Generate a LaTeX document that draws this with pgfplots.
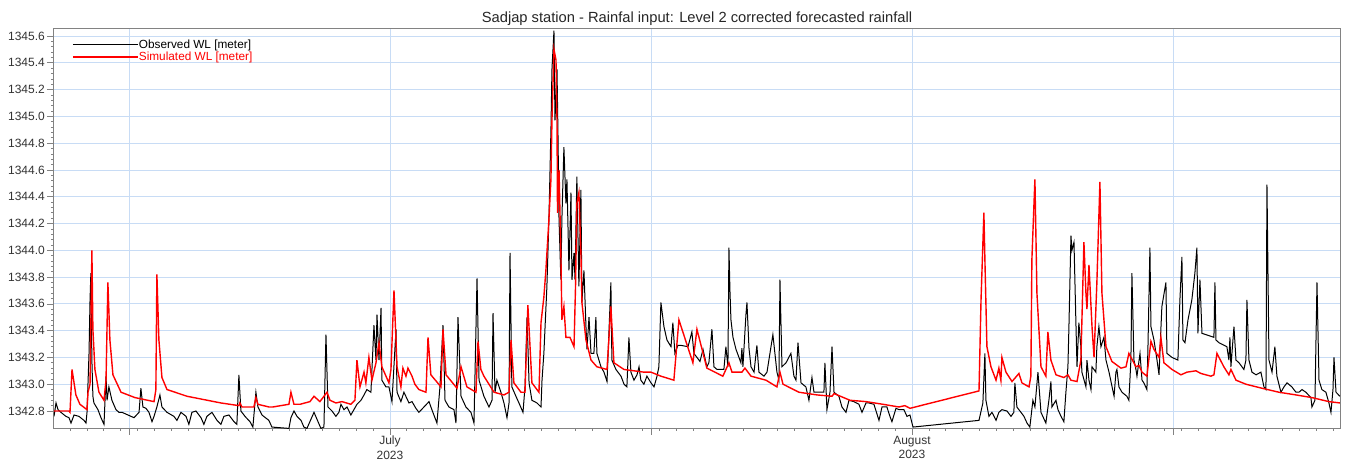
\documentclass[border=0pt]{standalone}
\usepackage{pgfplots}
\pgfplotsset{compat=1.18}
\usepackage{fontspec}
\setmainfont{Liberation Sans}
\definecolor{gridblue}{RGB}{200,220,245}
\definecolor{framegray}{RGB}{130,130,130}
\begin{document}
\begin{tikzpicture}
\begin{axis}[
  scale only axis, width=1286pt, height=399pt,
  at={(0,0)}, anchor=south west,
  xmin=-19.95, xmax=56.42, ymin=1342.673, ymax=1345.652,
  xtick={-15.5,0,15.5,31,46.5},
  xticklabels={,July\\2023,,August\\2023,},
  minor xtick={-19,-18,...,56},
  ytick={1342.8,1343.0,1343.2,1343.4,1343.6,1343.8,1344.0,1344.2,1344.4,1344.6,1344.8,1345.0,1345.2,1345.4,1345.6},
  yticklabels={1342.8,1343.0,1343.2,1343.4,1343.6,1343.8,1344.0,1344.2,1344.4,1344.6,1344.8,1345.0,1345.2,1345.4,1345.6},
  minor y tick num=4,
  xtick pos=bottom, ytick pos=left, tick align=outside,
  major tick length=7pt, minor tick length=3pt,
  tick style={color=framegray, line width=0.6pt},
  grid=major, major grid style={color=gridblue, line width=0.7pt},
  axis line style={color=framegray, line width=1pt},
  xticklabel style={align=center, font=\fontsize{12}{14.5}\selectfont, text=black!80, inner sep=1pt},
  yticklabel style={font=\fontsize{12}{14}\selectfont, text=black!80, inner sep=2pt},
  /pgf/number format/assume math mode=true,
  title={Sadjap station - Rainfal input: Level 2 corrected forecasted rainfall},
  title style={font=\fontsize{14.7}{16}\selectfont, text=black!85, at={(0.5,1)}, anchor=base, yshift=0pt, inner sep=0pt},
  legend cell align=left,
  legend style={draw=none, fill=none, at={(0.014,0.975)}, anchor=north west, inner sep=0pt, row sep=1pt,
    font=\fontsize{11.8}{12}\selectfont, nodes={inner sep=0.6pt}},
  legend image code/.code={\draw[#1] (0pt,0pt) -- (65pt,0pt);},
]
\addplot[black, line width=1pt] coordinates {
(-19.95,1342.76) (-19.83,1342.86) (-19.71,1342.81) (-19.54,1342.79) (-19.24,1342.76) (-19.06,1342.75) (-18.94,1342.71) (-18.76,1342.77) (-18.47,1342.76) (-18.17,1342.73) (-18.05,1342.71) (-17.99,1342.79) (-17.87,1343.23) (-17.81,1343.63) (-17.76,1343.83) (-17.70,1343.18) (-17.64,1342.91) (-17.58,1342.86) (-17.34,1342.81) (-17.16,1342.75) (-16.98,1342.70) (-16.86,1343.06) (-16.80,1342.88) (-16.69,1342.98) (-16.51,1342.88) (-16.27,1342.81) (-16.09,1342.79) (-15.91,1342.79) (-15.20,1342.75) (-14.90,1342.79) (-14.79,1342.97) (-14.67,1342.83) (-14.49,1342.82) (-14.31,1342.79) (-14.13,1342.72) (-14.01,1342.76) (-13.84,1342.83) (-13.66,1342.92) (-13.54,1342.83) (-13.24,1342.79) (-12.83,1342.76) (-12.65,1342.73) (-12.41,1342.79) (-12.11,1342.76) (-11.94,1342.70) (-11.76,1342.79) (-11.52,1342.80) (-11.22,1342.75) (-11.05,1342.70) (-10.87,1342.76) (-10.57,1342.79) (-10.27,1342.73) (-10.04,1342.70) (-9.86,1342.76) (-9.56,1342.77) (-9.26,1342.72) (-9.09,1342.70) (-8.97,1343.07) (-8.85,1342.80) (-8.61,1342.76) (-8.31,1342.72) (-8.14,1342.68) (-7.96,1342.94) (-7.84,1342.83) (-7.60,1342.77) (-7.19,1342.73) (-7.01,1342.68) (-6.00,1342.67) (-5.88,1342.75) (-5.70,1342.80) (-5.52,1342.76) (-5.28,1342.73) (-5.11,1342.68) (-4.93,1342.67) (-4.51,1342.79) (-4.10,1342.67) (-3.92,1342.68) (-3.80,1343.37) (-3.68,1342.83) (-3.44,1342.80) (-3.21,1342.76) (-3.03,1342.79) (-2.91,1342.85) (-2.73,1342.81) (-2.55,1342.83) (-2.32,1342.77) (-2.14,1342.81) (-1.96,1342.85) (-1.72,1342.88) (-1.54,1342.92) (-1.37,1342.96) (-1.13,1342.94) (-0.95,1343.44) (-0.83,1343.18) (-0.77,1343.52) (-0.65,1343.18) (-0.53,1343.57) (-0.48,1343.03) (-0.24,1342.98) (-0.06,1342.98) (0.12,1342.87) (0.36,1343.41) (0.42,1342.94) (0.65,1342.87) (0.83,1342.94) (1.13,1342.86) (1.31,1342.87) (1.54,1342.82) (1.72,1342.79) (2.02,1342.83) (2.32,1342.87) (2.49,1342.81) (2.79,1342.71) (2.97,1342.98) (3.15,1343.44) (3.27,1342.88) (3.50,1342.83) (3.80,1342.81) (3.92,1342.71) (4.04,1343.50) (4.22,1342.91) (4.51,1342.83) (4.81,1342.79) (4.99,1342.71) (5.17,1343.79) (5.29,1343.03) (5.58,1342.91) (5.88,1342.83) (6.06,1342.88) (6.12,1343.53) (6.24,1342.94) (6.35,1343.03) (6.59,1342.94) (6.77,1342.86) (6.95,1342.75) (7.07,1342.86) (7.13,1343.98) (7.24,1342.98) (7.48,1342.91) (7.66,1342.86) (7.90,1342.79) (8.02,1342.98) (8.14,1343.50) (8.26,1343.01) (8.43,1342.88) (8.73,1342.86) (8.97,1342.83) (9.03,1343.03) (9.14,1343.23) (9.32,1343.73) (9.44,1344.23) (9.56,1344.90) (9.62,1345.35) (9.74,1345.64) (9.80,1344.97) (9.92,1345.35) (9.98,1344.85) (10.04,1344.23) (10.15,1343.78) (10.21,1344.23) (10.33,1344.77) (10.45,1344.35) (10.51,1344.53) (10.63,1343.85) (10.75,1344.43) (10.81,1343.78) (10.93,1343.98) (10.99,1343.78) (11.10,1344.55) (11.22,1343.73) (11.34,1344.45) (11.40,1343.61) (11.52,1343.85) (11.64,1343.43) (11.70,1343.26) (11.82,1343.50) (11.94,1343.23) (12.11,1343.23) (12.23,1343.50) (12.29,1343.23) (12.53,1343.13) (12.71,1343.09) (12.89,1343.02) (13.12,1343.76) (13.18,1343.18) (13.42,1343.11) (13.72,1343.06) (13.90,1343.00) (14.07,1342.98) (14.19,1343.35) (14.31,1343.09) (14.49,1343.03) (14.67,1343.07) (14.79,1343.13) (14.90,1343.03) (15.08,1343.00) (15.26,1343.06) (15.50,1343.01) (15.68,1342.98) (15.86,1343.06) (15.97,1343.13) (16.09,1343.61) (16.27,1343.43) (16.45,1343.33) (16.69,1343.28) (16.80,1343.46) (16.92,1343.23) (17.10,1343.29) (17.28,1343.29) (17.70,1343.28) (17.93,1343.39) (18.05,1343.23) (18.41,1343.17) (18.59,1343.26) (18.82,1343.13) (18.94,1343.16) (19.12,1343.41) (19.24,1343.13) (19.42,1343.11) (19.83,1343.11) (19.95,1343.28) (20.07,1343.13) (20.13,1344.02) (20.19,1343.70) (20.25,1343.48) (20.37,1343.35) (20.55,1343.26) (20.84,1343.16) (20.90,1343.27) (20.96,1343.13) (21.14,1343.52) (21.20,1343.61) (21.32,1343.27) (21.44,1343.13) (21.62,1343.09) (21.79,1343.29) (21.91,1343.09) (22.21,1343.06) (22.39,1343.09) (22.74,1343.37) (22.98,1343.09) (23.10,1343.03) (23.16,1343.78) (23.28,1343.13) (23.52,1343.16) (23.81,1343.23) (23.99,1343.06) (24.11,1343.03) (24.23,1343.31) (24.41,1343.01) (24.70,1342.98) (24.88,1342.88) (25.06,1343.05) (25.18,1342.94) (25.48,1342.94) (25.77,1342.94) (25.83,1343.16) (25.95,1342.81) (26.13,1342.94) (26.25,1343.28) (26.37,1342.94) (26.66,1342.91) (26.84,1342.83) (27.08,1342.79) (27.26,1342.88) (27.55,1342.87) (27.85,1342.85) (28.03,1342.79) (28.27,1342.86) (28.44,1342.86) (28.74,1342.85) (29.04,1342.73) (29.22,1342.83) (29.51,1342.83) (29.69,1342.76) (29.81,1342.72) (30.05,1342.82) (30.23,1342.81) (30.52,1342.81) (30.70,1342.76) (30.88,1342.77) (31.06,1342.68) (34.98,1342.73) (35.21,1342.86) (35.33,1343.23) (35.39,1342.88) (35.57,1342.76) (35.75,1342.79) (35.99,1342.73) (36.16,1342.79) (36.34,1342.81) (36.64,1342.80) (36.88,1342.76) (37.05,1342.79) (37.11,1343.01) (37.23,1342.83) (37.47,1342.79) (37.65,1342.76) (37.83,1342.71) (38.00,1342.68) (38.18,1342.88) (38.30,1342.83) (38.48,1343.09) (38.66,1342.79) (38.95,1342.71) (39.13,1342.88) (39.25,1343.02) (39.31,1342.83) (39.55,1342.88) (39.67,1342.81) (39.85,1342.76) (40.02,1342.72) (40.14,1342.94) (40.26,1343.13) (40.32,1343.43) (40.44,1344.11) (40.50,1344.00) (40.62,1344.06) (40.74,1343.43) (40.80,1343.13) (40.91,1343.46) (41.03,1343.28) (41.09,1343.09) (41.33,1342.98) (41.39,1343.18) (41.51,1343.03) (41.63,1342.96) (41.69,1343.13) (41.92,1343.09) (41.98,1343.28) (42.10,1343.43) (42.22,1343.28) (42.40,1343.35) (42.52,1343.18) (42.70,1343.09) (43.00,1342.91) (43.11,1343.09) (43.17,1343.11) (43.29,1342.98) (43.47,1342.94) (43.76,1342.91) (43.88,1342.88) (44.00,1343.18) (44.06,1343.83) (44.18,1343.18) (44.30,1343.11) (44.36,1343.06) (44.54,1343.23) (44.66,1343.03) (44.77,1343.01) (44.95,1342.96) (45.01,1343.26) (45.13,1344.02) (45.19,1343.43) (45.37,1343.33) (45.55,1343.18) (45.67,1343.07) (45.78,1343.41) (45.84,1343.58) (46.08,1343.76) (46.14,1343.23) (46.44,1343.20) (46.79,1343.18) (46.91,1343.63) (47.03,1343.95) (47.09,1343.33) (47.21,1343.31) (47.39,1343.48) (47.62,1343.63) (47.80,1343.83) (47.92,1344.02) (47.98,1343.38) (48.10,1343.78) (48.22,1343.38) (48.93,1343.35) (48.99,1343.76) (49.05,1343.33) (49.23,1343.31) (49.70,1343.28) (49.82,1343.18) (49.88,1343.35) (49.94,1343.13) (50.12,1343.43) (50.24,1343.18) (50.42,1343.16) (50.71,1343.11) (50.83,1343.18) (50.89,1343.63) (51.01,1343.18) (51.19,1343.09) (51.43,1343.07) (51.72,1343.09) (51.90,1342.98) (52.02,1342.96) (52.08,1344.49) (52.20,1343.18) (52.38,1343.09) (52.55,1343.28) (52.67,1343.06) (52.91,1342.94) (53.09,1342.98) (53.27,1343.01) (53.56,1342.98) (53.80,1342.94) (53.98,1342.94) (54.16,1342.96) (54.39,1342.94) (54.69,1342.90) (54.75,1342.83) (54.93,1342.88) (55.05,1343.76) (55.17,1343.03) (55.34,1342.96) (55.58,1342.94) (55.76,1342.86) (55.88,1342.79) (56.00,1342.96) (56.06,1343.20) (56.18,1342.94) (56.41,1342.91)
};
\addlegendentry{Observed WL [meter]}
\addplot[red, line width=1.4pt, legend image post style={line width=1.1pt}] coordinates {
(-19.95,1342.80) (-19.06,1342.80) (-19.00,1342.79) (-18.88,1343.11) (-18.65,1342.92) (-18.41,1342.85) (-17.99,1342.81) (-17.93,1342.94) (-17.81,1343.00) (-17.70,1344.00) (-17.64,1343.41) (-17.52,1343.11) (-17.28,1342.94) (-16.98,1342.88) (-16.86,1343.03) (-16.75,1343.76) (-16.63,1343.33) (-16.45,1343.07) (-15.97,1342.94) (-15.14,1342.90) (-14.01,1342.87) (-13.90,1342.96) (-13.84,1343.82) (-13.72,1343.33) (-13.54,1343.05) (-13.24,1342.96) (-12.05,1342.91) (-10.04,1342.86) (-8.97,1342.84) (-8.91,1342.86) (-8.79,1342.83) (-8.08,1342.83) (-7.96,1342.90) (-7.84,1342.85) (-7.19,1342.83) (-6.95,1342.83) (-6.00,1342.85) (-5.88,1342.94) (-5.70,1342.85) (-5.34,1342.85) (-4.75,1342.87) (-4.51,1342.91) (-4.16,1342.87) (-3.74,1342.94) (-3.56,1342.88) (-3.21,1342.86) (-2.85,1342.87) (-2.32,1342.85) (-2.08,1342.88) (-1.96,1343.18) (-1.78,1342.98) (-1.54,1343.09) (-1.43,1343.01) (-1.25,1343.20) (-1.07,1343.03) (-0.83,1343.16) (-0.65,1343.31) (-0.48,1343.13) (-0.06,1343.01) (0.06,1343.11) (0.24,1343.70) (0.42,1343.13) (0.65,1342.98) (0.77,1343.12) (0.95,1343.06) (1.07,1343.12) (1.31,1343.06) (1.48,1343.00) (1.72,1342.96) (2.14,1342.94) (2.26,1343.35) (2.43,1343.07) (3.03,1342.98) (3.15,1343.41) (3.33,1343.07) (3.98,1342.97) (4.22,1343.13) (4.57,1342.98) (5.11,1342.94) (5.23,1343.32) (5.40,1343.11) (5.58,1343.06) (6.18,1342.94) (6.77,1342.92) (7.07,1342.94) (7.19,1343.33) (7.36,1343.01) (7.78,1342.94) (8.02,1342.94) (8.19,1343.59) (8.43,1343.01) (8.85,1342.94) (8.97,1343.46) (9.14,1343.65) (9.26,1343.85) (9.44,1344.23) (9.56,1344.53) (9.62,1344.97) (9.74,1345.50) (9.86,1345.42) (9.92,1344.97) (9.95,1344.28) (10.04,1344.60) (10.15,1343.98) (10.21,1343.48) (10.33,1343.58) (10.45,1343.35) (10.69,1343.35) (10.93,1343.28) (11.02,1343.73) (11.10,1344.35) (11.22,1344.43) (11.34,1343.98) (11.40,1343.61) (11.64,1343.33) (11.94,1343.18) (12.29,1343.13) (12.89,1343.11) (13.12,1343.58) (13.30,1343.16) (13.90,1343.11) (15.08,1343.09) (15.50,1343.09) (16.09,1343.06) (16.86,1343.03) (17.16,1343.48) (17.99,1343.16) (18.23,1343.41) (18.82,1343.12) (19.77,1343.06) (20.13,1343.16) (20.31,1343.09) (20.90,1343.09) (21.08,1343.12) (21.44,1343.06) (22.33,1343.03) (22.98,1342.98) (23.16,1343.09) (23.34,1343.00) (24.29,1342.94) (25.36,1342.92) (26.25,1342.91) (26.37,1342.93) (27.32,1342.88) (28.27,1342.87) (29.28,1342.85) (30.23,1342.83) (30.58,1342.84) (30.88,1342.82) (34.98,1342.95) (35.10,1343.63) (35.27,1344.28) (35.33,1343.93) (35.45,1343.28) (35.69,1343.13) (35.99,1343.03) (36.16,1343.12) (36.28,1343.03) (36.34,1343.20) (36.58,1343.09) (36.94,1343.02) (37.35,1343.08) (37.53,1343.01) (37.95,1342.98) (38.06,1343.06) (38.12,1343.93) (38.30,1344.53) (38.42,1343.68) (38.66,1343.13) (38.95,1343.06) (39.07,1343.39) (39.25,1343.18) (39.55,1343.07) (40.02,1343.05) (40.26,1343.07) (40.44,1343.03) (40.80,1343.02) (41.03,1343.18) (41.21,1344.06) (41.33,1343.68) (41.39,1343.56) (41.51,1343.89) (41.69,1343.43) (41.81,1343.20) (41.98,1343.76) (42.16,1344.51) (42.28,1343.68) (42.52,1343.28) (42.87,1343.17) (43.41,1343.12) (43.71,1343.13) (43.88,1343.23) (44.30,1343.13) (44.48,1343.14) (44.66,1343.09) (44.95,1343.06) (45.19,1343.32) (45.37,1343.26) (45.67,1343.20) (45.78,1343.35) (45.96,1343.16) (46.44,1343.11) (46.97,1343.07) (47.33,1343.09) (47.86,1343.10) (48.16,1343.08) (48.75,1343.06) (48.93,1343.07) (49.11,1343.23) (49.52,1343.13) (49.82,1343.07) (49.94,1343.11) (50.24,1343.03) (50.83,1343.00) (51.78,1342.97) (52.79,1342.94) (53.80,1342.92) (54.75,1342.90) (55.76,1342.87) (56.41,1342.86)
};
\addlegendentry{\textcolor{red}{Simulated WL [meter]}}
\end{axis}
\pgfresetboundingbox
\path[use as bounding box] (-54pt,-35pt) rectangle (1297pt,428pt);
\end{tikzpicture}
\end{document}
